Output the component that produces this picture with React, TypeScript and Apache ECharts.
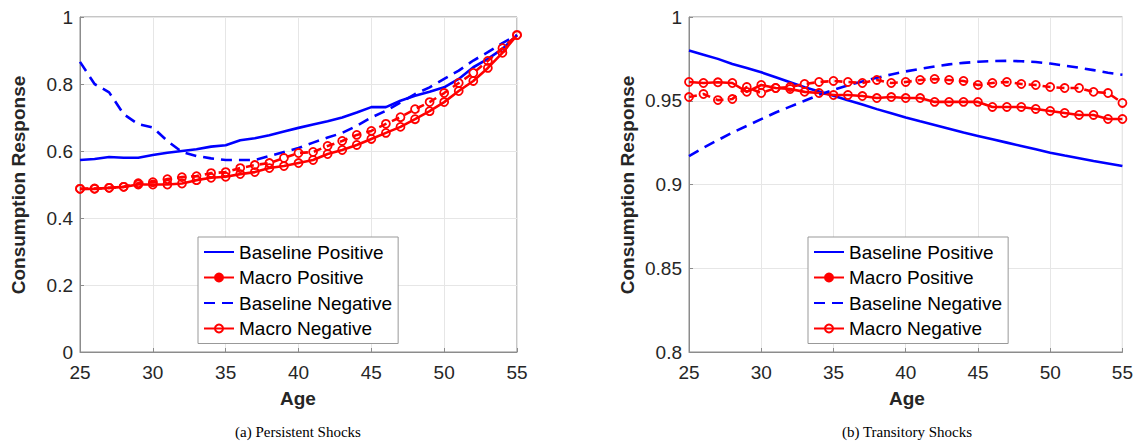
import React, { useEffect, useRef } from "react";
import * as echarts from "echarts";

const ages = [25, 26, 27, 28, 29, 30, 31, 32, 33, 34, 35, 36, 37, 38, 39, 40, 41, 42, 43, 44, 45, 46, 47, 48, 49, 50, 51, 52, 53, 54, 55];

// (a) Persistent shocks
const persBaselinePos = [0.573, 0.576, 0.582, 0.58, 0.58, 0.588, 0.595, 0.6, 0.605, 0.613, 0.617, 0.632, 0.638, 0.647, 0.658, 0.669, 0.679, 0.689, 0.7, 0.715, 0.731, 0.731, 0.75, 0.765, 0.777, 0.79, 0.815, 0.85, 0.875, 0.905, 0.946];
const persMacroPos = [0.487, 0.487, 0.49, 0.493, 0.5, 0.5, 0.5, 0.503, 0.513, 0.52, 0.523, 0.531, 0.537, 0.549, 0.555, 0.564, 0.573, 0.591, 0.603, 0.618, 0.636, 0.654, 0.672, 0.695, 0.719, 0.746, 0.779, 0.809, 0.848, 0.893, 0.946];
const persBaselineNeg = [0.866, 0.8, 0.775, 0.71, 0.68, 0.67, 0.63, 0.597, 0.585, 0.578, 0.573, 0.573, 0.573, 0.585, 0.597, 0.609, 0.625, 0.64, 0.654, 0.675, 0.7, 0.72, 0.745, 0.77, 0.79, 0.815, 0.84, 0.87, 0.895, 0.922, 0.946];
const persMacroNeg = [0.487, 0.488, 0.49, 0.493, 0.504, 0.507, 0.516, 0.522, 0.525, 0.534, 0.537, 0.549, 0.558, 0.564, 0.579, 0.594, 0.597, 0.615, 0.63, 0.648, 0.66, 0.681, 0.701, 0.725, 0.746, 0.773, 0.803, 0.833, 0.869, 0.907, 0.946];

// (b) Transitory shocks
const tranBaselinePos = [0.98, 0.9775, 0.975, 0.972, 0.9695, 0.967, 0.964, 0.961, 0.958, 0.9555, 0.953, 0.9503, 0.9477, 0.945, 0.9425, 0.94, 0.9377, 0.9355, 0.9333, 0.931, 0.929, 0.927, 0.925, 0.923, 0.921, 0.919, 0.9173, 0.9157, 0.914, 0.9125, 0.911];
const tranMacroPos = [0.9612, 0.9606, 0.961, 0.9606, 0.9553, 0.9594, 0.9576, 0.957, 0.9553, 0.9546, 0.9534, 0.9534, 0.9528, 0.9516, 0.9522, 0.9516, 0.9516, 0.9493, 0.9493, 0.9493, 0.9493, 0.9463, 0.9463, 0.9463, 0.9451, 0.9439, 0.9427, 0.9415, 0.9415, 0.9391, 0.9391];
const tranBaselineNeg = [0.917, 0.922, 0.9265, 0.931, 0.935, 0.939, 0.943, 0.9465, 0.95, 0.9535, 0.9565, 0.9592, 0.9615, 0.9637, 0.9657, 0.9675, 0.969, 0.9705, 0.9717, 0.9726, 0.9733, 0.9737, 0.9738, 0.9736, 0.9731, 0.9722, 0.971, 0.9697, 0.9683, 0.9667, 0.9655];
const tranMacroNeg = [0.9522, 0.954, 0.9504, 0.951, 0.9582, 0.9546, 0.9576, 0.9582, 0.96, 0.9612, 0.9618, 0.9612, 0.9606, 0.9624, 0.9606, 0.9612, 0.9624, 0.963, 0.9624, 0.9618, 0.9594, 0.9606, 0.9612, 0.96, 0.9594, 0.9582, 0.9576, 0.9576, 0.9553, 0.9546, 0.9487];

const seriesNames = ["Baseline Positive", "Macro Positive", "Baseline Negative", "Macro Negative"];
const xTicks = { min: 25, max: 55, interval: 5 };
const yLeft = { min: 0, max: 1, interval: 0.2 };
const yRight = { min: 0.8, max: 1, interval: 0.05 };
const yLabel = "Consumption Response";
const xLabel = "Age";
const captions = ["(a) Persistent Shocks", "(b) Transitory Shocks"];

const BLUE = "#0000ff";
const RED = "#ff0000";
const SANS = "'Liberation Sans', Arial, Helvetica, sans-serif";
const SERIF = "'Liberation Serif', 'DejaVu Serif', serif";
const TXT = "#262626";
const NOFILL = "rgba(255,255,255,0)";

const styles = [
  { color: BLUE, type: "solid" as any, marker: false },
  { color: RED, type: "solid" as any, marker: true },
  { color: BLUE, type: [11, 7] as any, marker: false },
  { color: RED, type: [8, 6] as any, marker: true },
];

function pairs(v: number[]) {
  return ages.map((a, i) => [a, v[i]]);
}

function makeSeries(idx: number, vals: number[][]) {
  return vals.map((v, k) => {
    const s = styles[k];
    return {
      name: seriesNames[k],
      type: "line",
      xAxisIndex: idx,
      yAxisIndex: idx,
      data: pairs(v),
      showSymbol: s.marker,
      symbol: s.marker ? "circle" : "none",
      symbolSize: 8,
      lineStyle: { color: s.color, width: 2.6, type: s.type },
      itemStyle: s.marker
        ? { color: NOFILL, borderColor: s.color, borderWidth: 1.8 }
        : { color: NOFILL, borderColor: NOFILL, borderWidth: 0 },
      emphasis: { disabled: true },
      z: 3,
    };
  });
}

function xAxis(gridIndex: number) {
  return {
    type: "value",
    gridIndex,
    ...xTicks,
    axisLine: { show: true, lineStyle: { color: "#8c8c8c", width: 1 } },
    axisTick: { show: true, inside: true, length: 4, lineStyle: { color: "#8c8c8c" } },
    axisLabel: { color: TXT, fontSize: 19, fontFamily: SANS, margin: 11 },
    splitLine: { show: true, lineStyle: { color: "#e6e6e6", width: 1 } },
  };
}

function yAxis(gridIndex: number, r: any, fmt: (v: number) => string) {
  return {
    type: "value",
    gridIndex,
    ...r,
    axisLine: { show: true, lineStyle: { color: "#8c8c8c", width: 1 } },
    axisTick: { show: true, inside: true, length: 4, lineStyle: { color: "#8c8c8c" } },
    axisLabel: { color: TXT, fontSize: 19, fontFamily: SANS, margin: 7, formatter: fmt },
    splitLine: { show: true, lineStyle: { color: "#e6e6e6", width: 1 } },
  };
}

const legendText = { fontSize: 19, fontFamily: SANS, color: "#000", lineHeight: 20 };

function legend(left: number) {
  return {
    show: true,
    orient: "vertical",
    left,
    top: 237,
    data: seriesNames.map((n, k) => {
      const item: any = { name: n, textStyle: legendText };
      if (k === 1) item.itemStyle = { color: RED };
      if (k === 3) item.lineStyle = { type: "solid" };
      return item;
    }),
    itemWidth: 30,
    itemHeight: 10,
    itemGap: 5.5,
    padding: [5, 6, 5, 5],
    backgroundColor: "#ffffff",
    borderColor: "#999999",
    borderWidth: 1,
    borderRadius: 0,
    selectedMode: false,
    textStyle: legendText,
    z: 10,
  };
}

export default function App() {
  const ref = useRef<HTMLDivElement>(null);
  useEffect(() => {
    if (!ref.current) return;
    const chart = echarts.init(ref.current, undefined, { renderer: "svg" });
    const fmt = (v: number) => String(Math.round(v * 100) / 100);
    const bold = `bold 19px ${SANS}`;
    chart.setOption({
      animation: false,
      backgroundColor: "#ffffff",
      grid: [
        { left: 80, top: 17, width: 437, height: 335, show: true, borderColor: "#8c8c8c", borderWidth: 1, backgroundColor: "transparent" },
        { left: 689, top: 17, width: 437, height: 335, show: true, borderColor: "#8c8c8c", borderWidth: 1, backgroundColor: "transparent" },
      ],
      xAxis: [xAxis(0), xAxis(1)],
      yAxis: [yAxis(0, yLeft, fmt), yAxis(1, yRight, fmt)],
      legend: [legend(198), legend(808)],
      series: [
        ...makeSeries(0, [persBaselinePos, persMacroPos, persBaselineNeg, persMacroNeg]),
        ...makeSeries(1, [tranBaselinePos, tranMacroPos, tranBaselineNeg, tranMacroNeg]),
      ],
      graphic: [
        { type: "text", x: 18, y: 185, rotation: Math.PI / 2, style: { text: yLabel, font: bold, fill: TXT, align: "center", verticalAlign: "middle" } },
        { type: "text", x: 627, y: 185, rotation: Math.PI / 2, style: { text: yLabel, font: bold, fill: TXT, align: "center", verticalAlign: "middle" } },
        { type: "text", x: 298, y: 398, style: { text: xLabel, font: bold, fill: TXT, align: "center", verticalAlign: "middle" } },
        { type: "text", x: 907, y: 398, style: { text: xLabel, font: bold, fill: TXT, align: "center", verticalAlign: "middle" } },
        { type: "text", x: 298, y: 432, style: { text: captions[0], font: `15px ${SERIF}`, fill: "#000", align: "center", verticalAlign: "middle" } },
        { type: "text", x: 907, y: 432, style: { text: captions[1], font: `15px ${SERIF}`, fill: "#000", align: "center", verticalAlign: "middle" } },
      ],
    });
    return () => chart.dispose();
  }, []);
  return <div ref={ref} style={{ position: "fixed", left: 0, top: 0, width: 1136, height: 442 }} />;
}
